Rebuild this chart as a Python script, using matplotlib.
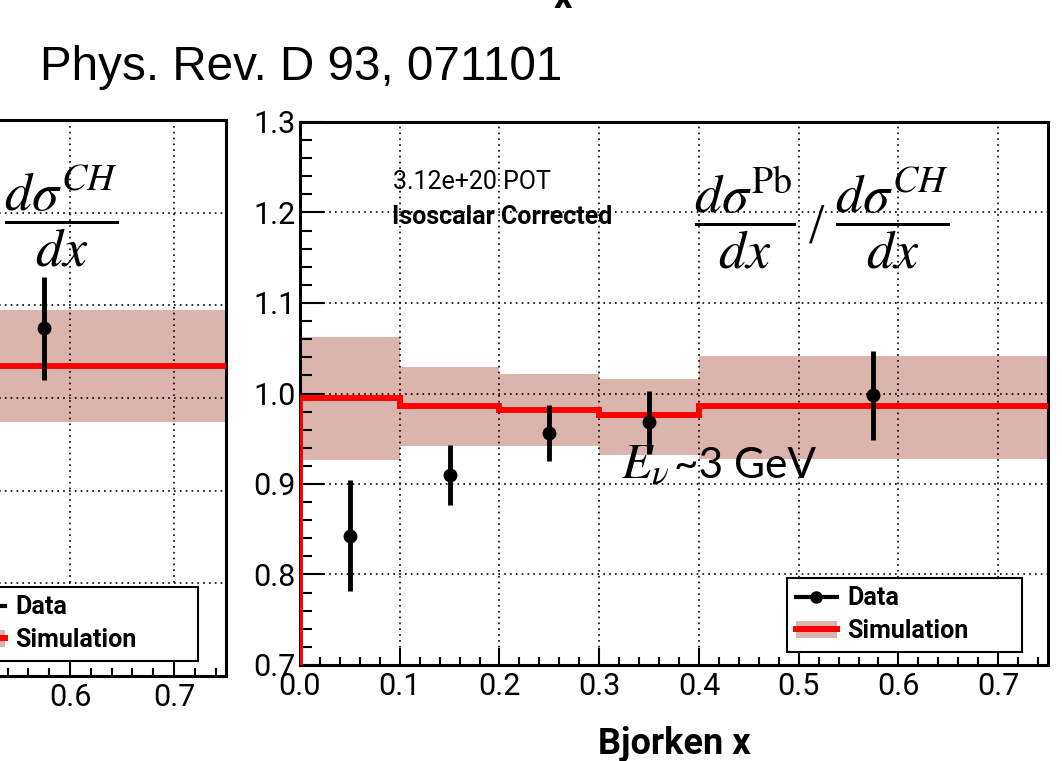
import numpy as np
import matplotlib
matplotlib.use('Agg')
import matplotlib.pyplot as plt
from matplotlib.lines import Line2D
from matplotlib.patches import Patch
from matplotlib.ticker import MultipleLocator, FormatStrFormatter

plt.rcParams['mathtext.fontset'] = 'stix'
plt.rcParams['font.family'] = ['Roboto', 'DejaVu Sans']

# ---- Pb/CH ratio panel (right) ----
bin_edges = [0.0, 0.1, 0.2, 0.3, 0.4, 0.75]
sim_vals = [0.995, 0.986, 0.982, 0.976, 0.986]
sim_hi = [1.062, 1.029, 1.021, 1.016, 1.041]
sim_lo = [0.926, 0.942, 0.942, 0.932, 0.928]

data_x = [0.05, 0.15, 0.25, 0.35, 0.575]
data_y = [0.843, 0.910, 0.956, 0.968, 0.998]
data_err = [0.061, 0.033, 0.031, 0.035, 0.049]

# ---- partially visible panel (left), only the last bin is in view ----
left_edges = [0.4, 0.75]
left_sim = [1.035]
left_hi = [1.095]
left_lo = [0.974]
left_x = [0.575]
left_y = [1.075]
left_err = [0.056]

band_col = '#dcb4ae'
W, H = 1062, 761


def style_axes(ax):
    ax.set_xlim(0, 0.75)
    ax.set_ylim(0.7, 1.3)
    ax.xaxis.set_major_locator(MultipleLocator(0.1))
    ax.xaxis.set_minor_locator(MultipleLocator(0.02))
    ax.yaxis.set_major_locator(MultipleLocator(0.1))
    ax.yaxis.set_minor_locator(MultipleLocator(0.02))
    ax.xaxis.set_major_formatter(FormatStrFormatter('%.1f'))
    ax.yaxis.set_major_formatter(FormatStrFormatter('%.1f'))
    ax.tick_params(axis='x', which='major', direction='in', length=12, width=1.5,
                   labelsize=22, pad=5)
    ax.tick_params(axis='x', which='minor', direction='in', length=5.5, width=1.5)
    ax.tick_params(axis='y', which='major', direction='in', length=17, width=1.5,
                   labelsize=22, pad=3)
    ax.tick_params(axis='y', which='minor', direction='in', length=8.5, width=1.5)
    for s in ax.spines.values():
        s.set_linewidth(2.2)
    ax.grid(True, which='major', color='k', linestyle=(0, (1, 2.5)), linewidth=1.2)


def draw_hist(ax, edges, vals, hi, lo):
    e = np.array(edges)
    ax.stairs(hi, e, baseline=lo, fill=True, color=band_col, lw=0, zorder=1)
    ax.stairs(vals, e, baseline=None, color='red', lw=4.3, zorder=3)


def add_legend(ax, box):
    h_data = Line2D([], [], color='k', marker='o', ms=8, lw=3)
    h_sim = (Patch(facecolor=band_col, edgecolor='none'), Line2D([], [], color='red', lw=4.3))
    leg = ax.legend([h_data, h_sim], ['Data', 'Simulation'], loc='lower left',
                    bbox_to_anchor=box, mode='expand', frameon=True, fancybox=False,
                    edgecolor='k', framealpha=1, borderpad=0.35, labelspacing=0.35,
                    handlelength=1.65, handletextpad=0.4, borderaxespad=0,
                    prop={'family': 'Roboto', 'weight': 'bold', 'size': 18})
    leg.get_frame().set_linewidth(1.5)
    leg.set_zorder(5)


fig = plt.figure(figsize=(W / 100, H / 100), dpi=100)

# left panel (cut off by the slide edge)
axl = fig.add_axes([-554 / W, (H - 676) / H, 780 / W, 556 / H])
style_axes(axl)
axl.tick_params(axis='y', labelleft=False)
draw_hist(axl, left_edges, left_sim, left_hi, left_lo)
axl.errorbar(left_x, left_y, yerr=left_err, fmt='o', color='k', ms=9,
             elinewidth=3.5, capsize=0, zorder=4)
add_legend(axl, (0.653, 0.027, 0.311, 0.12))
axl.text(0.789, 0.826, r'$\dfrac{d\sigma^{CH}}{dx}$', transform=axl.transAxes,
         fontsize=39, ha='center', va='center', zorder=6)

# right panel
ax = fig.add_axes([300 / W, (H - 665) / H, 748 / W, 543 / H])
style_axes(ax)
draw_hist(ax, bin_edges, sim_vals, sim_hi, sim_lo)
ax.vlines(bin_edges[0], 0, sim_vals[0], color='red', lw=4.3, zorder=3)
ax.errorbar(data_x, data_y, yerr=data_err, fmt='o', color='k', ms=9,
            elinewidth=3.5, capsize=0, zorder=4)
add_legend(ax, (0.651, 0.024, 0.314, 0.12))
ax.set_xlabel('Bjorken x', fontsize=26, fontweight='bold', labelpad=18)

ax.text(0.124, 0.889, '3.12e+20 POT', transform=ax.transAxes, fontsize=18,
        ha='left', va='center')
ax.text(0.123, 0.825, 'Isoscalar Corrected', transform=ax.transAxes, fontsize=18,
        fontweight='bold', ha='left', va='center')
ax.text(0.594, 0.822, r'$\dfrac{d\sigma^{\mathrm{Pb}}}{dx}$', transform=ax.transAxes,
        fontsize=39, ha='center', va='center', zorder=6)
ax.text(0.691, 0.803, '/', transform=ax.transAxes, fontsize=40,
        family='Liberation Serif', ha='center', va='center', zorder=6)
ax.text(0.792, 0.822, r'$\dfrac{d\sigma^{CH}}{dx}$', transform=ax.transAxes,
        fontsize=39, ha='center', va='center', zorder=6)
ax.text(0.429, 0.344, r'$E_{\nu}$', transform=ax.transAxes, fontsize=36,
        ha='left', va='baseline', zorder=6)
ax.text(0.500, 0.344, '~3 GeV', transform=ax.transAxes, fontsize=30.5,
        family='Lato', ha='left', va='baseline', zorder=6)

fig.text(40 / W, 1 - 80 / H, 'Phys. Rev. D 93, 071101', fontsize=34.3,
         family='Liberation Sans', ha='left', va='baseline')
fig.text(563 / W, 1 - 8 / H, 'x', fontsize=26, fontweight='bold',
         ha='center', va='baseline')

fig.savefig('out.png', dpi=100)
